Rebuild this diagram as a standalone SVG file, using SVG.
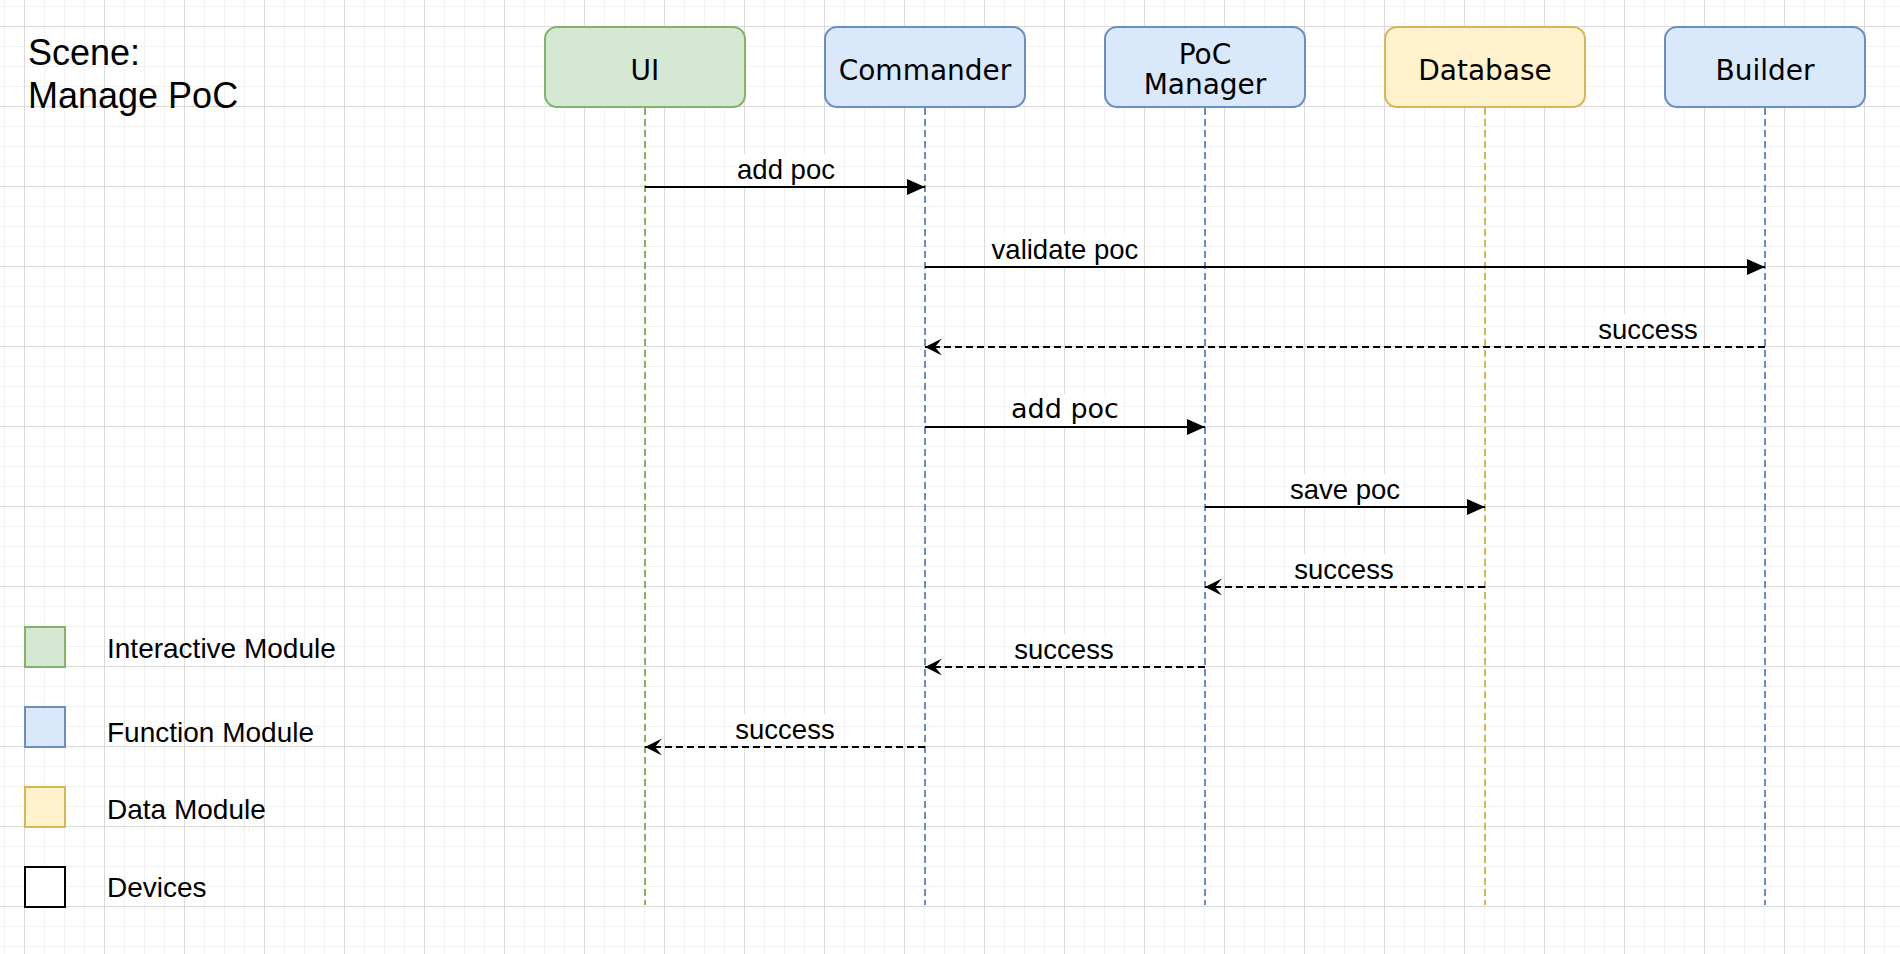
<svg xmlns="http://www.w3.org/2000/svg" width="1900" height="954" viewBox="0 0 1900 954">
<defs>
<pattern id="minor" x="4" y="6" width="20" height="20" patternUnits="userSpaceOnUse">
<path d="M0.5,0 V20 M0,0.5 H20" stroke="#f1f1f1" stroke-width="1" fill="none"/>
</pattern>
<pattern id="major" x="24" y="26" width="80" height="80" patternUnits="userSpaceOnUse">
<path d="M0.5,0 V80 M0,0.5 H80" stroke="#dadada" stroke-width="1" fill="none"/>
</pattern>
<marker id="block" markerUnits="userSpaceOnUse" markerWidth="18" markerHeight="16" refX="18" refY="8" orient="auto" overflow="visible">
<path d="M0,0 L18,8 L0,16 z" fill="#000"/>
</marker>
<marker id="classic" markerUnits="userSpaceOnUse" markerWidth="18" markerHeight="18" refX="17" refY="8.5" orient="auto" overflow="visible">
<path d="M0,0 L17,8.5 L0,17 L7,8.5 z" fill="#000"/>
</marker>
</defs>
<style>
.node text{font-family:"DejaVu Sans",sans-serif;font-size:28px;fill:#000;text-anchor:middle}
.green{fill:#d5e8d4;stroke:#82b366;stroke-width:2}
.blue{fill:#dae8fc;stroke:#6c8ebf;stroke-width:2}
.yellow{fill:#fff2cc;stroke:#d6b656;stroke-width:2}
.plain{fill:#fff;stroke:#000;stroke-width:2}
.life{stroke-width:2;stroke-dasharray:7 4;fill:none}
.msg{stroke:#000;stroke-width:2;fill:none;marker-end:url(#block)}
.ret{stroke:#000;stroke-width:2;fill:none;stroke-dasharray:7 4;marker-end:url(#classic)}
.lbl{font-family:"Liberation Sans",Arial,sans-serif;font-size:27.5px;fill:#000;text-anchor:middle}
.lbl2{font-family:"DejaVu Sans",sans-serif;font-size:27px;fill:#000;text-anchor:middle}
.lbg{fill:#fff}
.legend text{font-family:"Liberation Sans",Arial,sans-serif;font-size:28px;fill:#000}
.title{font-family:"Liberation Sans",Arial,sans-serif;font-size:36px;fill:#000}
</style>
<rect width="1900" height="954" fill="#fff"/>
<rect width="1900" height="954" fill="url(#minor)"/>
<rect width="1900" height="954" fill="url(#major)"/>

<g id="title">
<text class="title" x="28" y="65">Scene:</text>
<text class="title" x="28" y="108">Manage PoC</text>
</g>

<g id="lifelines">
<line class="life" x1="645" y1="108" x2="645" y2="905" stroke="#82b366"/>
<line class="life" x1="925" y1="108" x2="925" y2="905" stroke="#6c8ebf"/>
<line class="life" x1="1205" y1="108" x2="1205" y2="905" stroke="#6c8ebf"/>
<line class="life" x1="1485" y1="108" x2="1485" y2="905" stroke="#d6b656"/>
<line class="life" x1="1765" y1="108" x2="1765" y2="905" stroke="#6c8ebf"/>
</g>

<g id="node-ui" class="node">
<rect class="green" x="545" y="27" width="200" height="80" rx="12"/>
<text x="645" y="80">UI</text>
</g>
<g id="node-commander" class="node">
<rect class="blue" x="825" y="27" width="200" height="80" rx="12"/>
<text x="925" y="80">Commander</text>
</g>
<g id="node-pocmanager" class="node">
<rect class="blue" x="1105" y="27" width="200" height="80" rx="12"/>
<text x="1205" y="64">PoC</text>
<text x="1205" y="94">Manager</text>
</g>
<g id="node-database" class="node">
<rect class="yellow" x="1385" y="27" width="200" height="80" rx="12"/>
<text x="1485" y="80">Database</text>
</g>
<g id="node-builder" class="node">
<rect class="blue" x="1665" y="27" width="200" height="80" rx="12"/>
<text x="1765" y="80">Builder</text>
</g>

<g id="connectors">
<line class="msg" x1="645" y1="187" x2="925" y2="187"/>
<rect class="lbg" x="735" y="154" width="102" height="32"/>
<text class="lbl" x="786" y="179">add poc</text>

<line class="msg" x1="925" y1="267" x2="1765" y2="267"/>
<rect class="lbg" x="989" y="234" width="152" height="32"/>
<text class="lbl" x="1065" y="259">validate poc</text>

<line class="ret" x1="1765" y1="347" x2="925" y2="347"/>
<rect class="lbg" x="1597" y="314" width="102" height="32"/>
<text class="lbl" x="1648" y="339">success</text>

<line class="msg" x1="925" y1="427" x2="1205" y2="427"/>
<rect class="lbg" x="1010" y="394" width="111" height="32"/>
<text class="lbl2" x="1065" y="418">add poc</text>

<line class="msg" x1="1205" y1="507" x2="1485" y2="507"/>
<rect class="lbg" x="1289" y="474" width="114" height="32"/>
<text class="lbl" x="1345" y="499">save poc</text>

<line class="ret" x1="1485" y1="587" x2="1205" y2="587"/>
<rect class="lbg" x="1293" y="554" width="102" height="32"/>
<text class="lbl" x="1344" y="579">success</text>

<line class="ret" x1="1205" y1="667" x2="925" y2="667"/>
<rect class="lbg" x="1013" y="634" width="102" height="32"/>
<text class="lbl" x="1064" y="659">success</text>

<line class="ret" x1="925" y1="747" x2="645" y2="747"/>
<rect class="lbg" x="733" y="714" width="102" height="32"/>
<text class="lbl" x="785" y="739">success</text>
</g>

<g id="legend" class="legend">
<rect class="green" x="25" y="627" width="40" height="40"/>
<text x="107" y="658">Interactive Module</text>
<rect class="blue" x="25" y="707" width="40" height="40"/>
<text x="107" y="742">Function Module</text>
<rect class="yellow" x="25" y="787" width="40" height="40"/>
<text x="107" y="819">Data Module</text>
<rect class="plain" x="25" y="867" width="40" height="40"/>
<text x="107" y="897">Devices</text>
</g>
</svg>
